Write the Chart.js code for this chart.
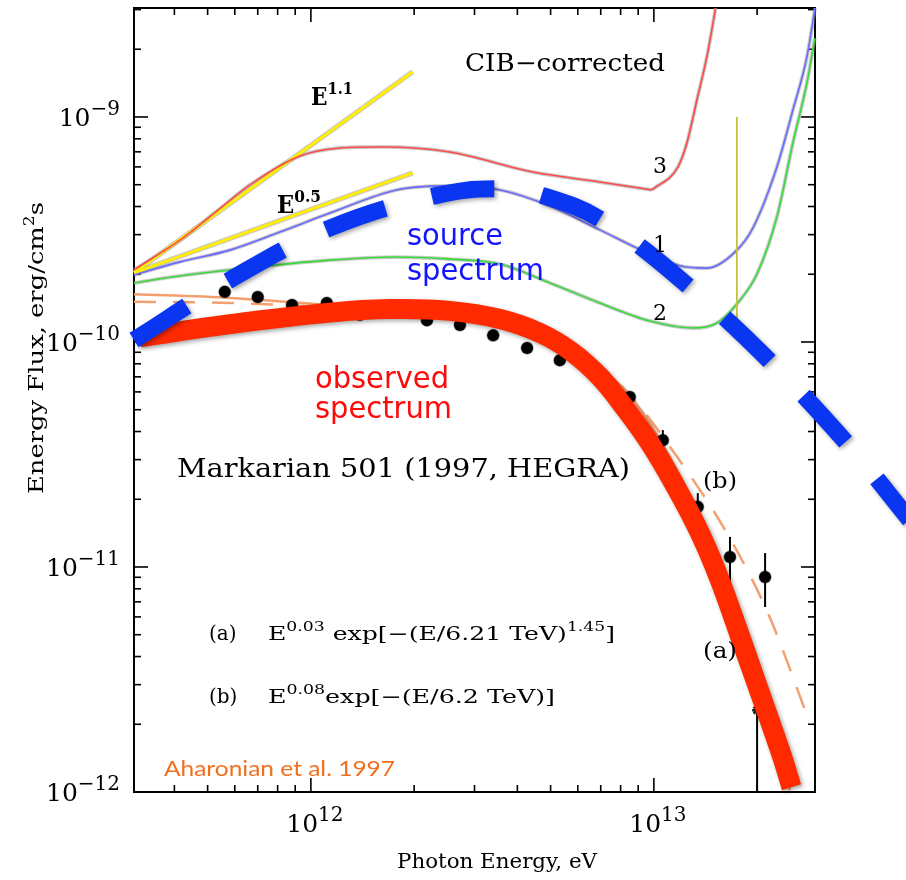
<!DOCTYPE html>
<html>
<head>
<meta charset="utf-8">
<script src="https://cdn.jsdelivr.net/npm/chart.js@4.4.1/dist/chart.umd.min.js"></script>
<style>
  html, body { margin: 0; padding: 0; background: #fff; }
  canvas { display: block; }
</style>
</head>
<body>
<canvas id="grafico" width="906" height="880"></canvas>
<script>
// Mkn 501 (HEGRA 1997): energia em eV, fluxo de energia em erg/cm^2/s

const SERIF = '"DejaVu Serif", "Liberation Serif", serif';
const SANS = '"DejaVu Sans", "Noto Sans", sans-serif';
const CALIB = 'Lato, "Open Sans", sans-serif';

// limites dos eixos
const xMin = 3.05e11, xMax = 2.95e13;
const yMin = 1e-12, yMax = 3.05e-9;

// rótulos dos ticks
const xMajor = [1e12, 1e13];
const xMajorExp = ['12', '13'];
const yMajor = [1e-9, 1e-10, 1e-11, 1e-12];
const yMajorExp = ['−9', '−10', '−11', '−12'];
const minorMult = [2, 3, 4, 5, 6, 7, 8, 9];

// pontos HEGRA
const obsE  = [5.61e11, 7.0e11, 8.81e11, 1.113e12, 1.39e12, 2.18e12, 2.72e12, 3.40e12, 4.27e12, 5.32e12, 6.73e12, 8.51e12, 1.062e13, 1.343e13, 1.667e13, 2.11e13];
const obsF  = [1.67e-10, 1.585e-10, 1.46e-10, 1.49e-10, 1.32e-10, 1.25e-10, 1.19e-10, 1.07e-10, 9.4e-11, 8.3e-11, 7.36e-11, 5.70e-11, 3.66e-11, 1.85e-11, 1.107e-11, 9.03e-12];
const obsLo = [null, null, null, null, null, null, null, null, null, null, null, null, 3.31e-11, 1.6e-11, 8.5e-12, 6.64e-12];
const obsHi = [null, null, null, null, null, null, null, null, null, null, null, null, 4.06e-11, 2.13e-11, 1.36e-11, 1.153e-11];

// ponto do último bin (limite)
const limE  = [2.0e13];
const limF  = [2.31e-12];
const limLo = [1e-13];
const limHi = [3.74e-12];

// ajustes (a) e (b)
const fitAE = [3.05e11, 5.81e11, 1.136e12, 2.22e12, 3.56e12, 5.69e12, 7.96e12, 9.73e12, 1.36e13, 1.78e13, 2.18e13, 2.49e13];
const fitAF = [1.63e-10, 1.57e-10, 1.46e-10, 1.36e-10, 1.23e-10, 9.7e-11, 6.44e-11, 4.36e-11, 1.70e-11, 6.44e-12, 2.56e-12, 1.02e-12];
const fitBE = [3.05e11, 5.81e11, 1.136e12, 2.22e12, 3.56e12, 5.69e12, 8.51e12, 1.175e13, 1.644e13, 2.15e13, 2.85e13];
const fitBF = [1.51e-10, 1.49e-10, 1.43e-10, 1.35e-10, 1.21e-10, 9.9e-11, 5.81e-11, 3.05e-11, 1.39e-11, 6.25e-12, 2.03e-12];

// espectros corrigidos pelo CIB (modelos 1, 2, 3); o 3 tem um bico em ~1e13 eV
const cib3E = [3.05e11, 4.24e11, 5.28e11, 6.64e11, 9.29e11, 1.215e12, 1.62e12, 2.54e12, 4.44e12, 6.96e12, 9.87e12, 1.175e13, 1.248e13, 1.335e13, 1.427e13, 1.537e13];
const cib3F = [2.09e-10, 2.90e-10, 3.78e-10, 4.99e-10, 6.71e-10, 7.28e-10, 7.36e-10, 6.99e-10, 5.69e-10, 5.14e-10, 4.74e-10, 5.99e-10, 7.66e-10, 1.19e-9, 1.848e-9, 3.49e-9];
const cib3Bico = 10;
const cib1E = [3.05e11, 4.15e11, 5.80e11, 8.12e11, 1.136e12, 1.78e12, 2.54e12, 3.56e12, 4.98e12, 6.96e12, 9.29e12, 1.19e13, 1.427e13, 1.723e13, 1.944e13, 2.284e13, 2.543e13, 2.794e13, 3.007e13];
const cib1F = [1.985e-10, 2.27e-10, 2.56e-10, 3.08e-10, 3.74e-10, 4.74e-10, 4.94e-10, 4.74e-10, 4.02e-10, 3.15e-10, 2.54e-10, 2.18e-10, 2.13e-10, 2.51e-10, 3.21e-10, 5.99e-10, 1.074e-9, 1.848e-9, 3.67e-9];
const cib2E = [3.05e11, 4.15e11, 5.80e11, 1.136e12, 1.78e12, 2.49e12, 3.56e12, 4.98e12, 6.96e12, 9.73e12, 1.299e13, 1.527e13, 1.746e13, 1.997e13, 2.284e13, 2.543e13, 2.794e13, 2.947e13];
const cib2F = [1.83e-10, 1.965e-10, 2.09e-10, 2.31e-10, 2.385e-10, 2.34e-10, 2.22e-10, 1.83e-10, 1.49e-10, 1.24e-10, 1.154e-10, 1.214e-10, 1.476e-10, 2.0e-10, 3.59e-10, 7.66e-10, 1.416e-9, 2.24e-9];

// leis de potência de referência
const pow11E = [3.05e11, 1.98e12];
const pow11F = [2.03e-10, 1.585e-9];
const pow05E = [3.05e11, 1.98e12];
const pow05F = [2.03e-10, 5.64e-10];

// marca vertical
const marcaE = [1.746e13, 1.746e13];
const marcaF = [1e-9, 1.25e-10];

// curvas desenhadas à mão: observado e fonte
const obsCurvaE = [3.17e11, 5.81e11, 1.136e12, 1.70e12, 2.54e12, 3.56e12, 4.66e12, 5.77e12, 6.96e12, 8.23e12, 9.73e12, 1.151e13, 1.362e13, 1.557e13, 1.84e13, 2.33e13, 2.52e13];
const obsCurvaF = [1.05e-10, 1.20e-10, 1.35e-10, 1.40e-10, 1.375e-10, 1.265e-10, 1.096e-10, 9.03e-11, 6.99e-11, 5.09e-11, 3.56e-11, 2.31e-11, 1.416e-11, 8.75e-12, 4.28e-12, 1.54e-12, 1.05e-12];
const fonteE = [3.05e11, 5.81e11, 1.136e12, 2.30e12, 3.56e12, 4.88e12, 7.2e12, 1.318e13, 2.28e13, 3.80e13, 5.57e13];
const fonteF = [1.02e-10, 1.89e-10, 3.21e-10, 4.46e-10, 4.79e-10, 4.41e-10, 3.41e-10, 1.67e-10, 7.66e-11, 3.31e-11, 1.62e-11];

const pts = (xs, ys) => xs.map((x, i) => ({ x, y: ys[i] }));

// linha fina com contorno cinza, como no gráfico original
function linhaFina(xs, ys, cor, opts = {}) {
  const w = opts.w || 1.6;
  const base = { data: pts(xs, ys), pointRadius: 0, fill: false,
    tension: opts.suave ? 0.4 : 0, cubicInterpolationMode: opts.suave ? 'monotone' : 'default' };
  return [
    Object.assign({}, base, { borderColor: cor, borderWidth: w, order: 6 }),
    Object.assign({}, base, { borderColor: 'rgba(150,150,150,0.5)', borderWidth: w + 2.2, order: 8 })
  ];
}

const datasets = [
  { id: 'fonte', data: pts(fonteE, fonteF), borderColor: '#0a36f2', borderWidth: 17,
    borderDash: [63, 48], borderCapStyle: 'butt', tension: 0.4,
    pointRadius: 0, clip: false, order: 0, sombra: true },
  { id: 'observado', data: pts(obsCurvaE, obsCurvaF), borderColor: '#ff2a00', borderWidth: 20,
    borderCapStyle: 'butt', tension: 0.4,
    pointRadius: 0, clip: false, order: 1, sombra: true },
  { id: 'hegra', data: pts(obsE, obsF), showLine: false, pointRadius: 6,
    pointBackgroundColor: '#000', pointBorderColor: 'rgba(0,0,0,0.3)', pointBorderWidth: 1.5, order: 2 },
  { id: 'limite', data: pts(limE, limF), showLine: false, pointStyle: 'star', pointRadius: 5,
    pointBorderColor: '#222', pointBorderWidth: 2.5, order: 2 },
  { id: 'fitA', data: pts(fitAE, fitAF), borderColor: '#f2a070', borderWidth: 2.5,
    tension: 0.4, cubicInterpolationMode: 'monotone', pointRadius: 0, order: 3 },
  { id: 'fitB', data: pts(fitBE, fitBF), borderColor: '#f2a070', borderWidth: 2.5, borderDash: [22, 17],
    tension: 0.4, cubicInterpolationMode: 'monotone', pointRadius: 0, order: 4 },
  { id: 'marca', data: pts(marcaE, marcaF), borderColor: '#c8c040', borderWidth: 1.8, pointRadius: 0, order: 5 },
  ...linhaFina(cib3E.slice(0, cib3Bico + 1), cib3F.slice(0, cib3Bico + 1), '#ff4a4a', { suave: true }),
  ...linhaFina(cib3E.slice(cib3Bico), cib3F.slice(cib3Bico), '#ff4a4a', { suave: true }),
  ...linhaFina(cib1E, cib1F, '#6a6aff', { suave: true }),
  ...linhaFina(cib2E, cib2F, '#3ada3a', { suave: true }),
  ...linhaFina(pow11E, pow11F, '#ffee00', { w: 3 }),
  ...linhaFina(pow05E, pow05F, '#ffee00', { w: 3 })
];

// texto com expoentes: partes = [[texto, sobrescrito?], ...]
function escreve(ctx, partes, x, y, o) {
  const size = o.size, supSize = Math.round(size * (o.sup || 0.68));
  const fam = o.font || SERIF, peso = o.peso || '';
  const fontN = `${peso} ${size}px ${fam}`, fontS = `${peso} ${supSize}px ${fam}`;
  let nat = 0;
  const larg = partes.map(([t, s]) => { ctx.font = s ? fontS : fontN; const w = ctx.measureText(t).width; nat += w; return w; });
  const sx = o.largura ? o.largura / nat : 1;
  let x0 = x;
  if (o.align === 'right') x0 = x - nat * sx;
  if (o.align === 'center') x0 = x - nat * sx / 2;
  ctx.save();
  ctx.fillStyle = o.cor || '#000';
  ctx.textBaseline = 'alphabetic';
  ctx.textAlign = 'left';
  ctx.translate(x0, y);
  if (o.rot) ctx.rotate(o.rot);
  ctx.scale(sx, 1);
  let cx = 0;
  partes.forEach(([t, s], i) => {
    ctx.font = s ? fontS : fontN;
    ctx.fillText(t, cx, s ? -size * 0.45 : 0);
    cx += larg[i];
  });
  ctx.restore();
}

const eixos = {
  id: 'eixos',
  beforeDatasetsDraw(chart) {
    const { ctx, chartArea: a, scales: { x, y } } = chart;
    ctx.save();
    ctx.strokeStyle = '#000';
    ctx.lineWidth = 2;
    ctx.strokeRect(a.left, a.top, a.right - a.left, a.bottom - a.top);
    ctx.lineWidth = 1.6;
    const tick = (x1, y1, x2, y2) => { ctx.beginPath(); ctx.moveTo(x1, y1); ctx.lineTo(x2, y2); ctx.stroke(); };
    for (let k = 11; k <= 13; k++) {
      [1, ...minorMult].forEach(m => {
        const v = m * Math.pow(10, k);
        if (v <= xMin || v >= xMax) return;
        const px = x.getPixelForValue(v), len = m === 1 ? 14 : 7;
        tick(px, a.bottom, px, a.bottom - len);
        tick(px, a.top, px, a.top + len);
      });
    }
    for (let k = -12; k <= -9; k++) {
      [1, ...minorMult].forEach(m => {
        const v = m * Math.pow(10, k);
        if (v < yMin || v >= yMax) return;
        const py = y.getPixelForValue(v), len = m === 1 ? 14 : 7;
        tick(a.left, py, a.left + len, py);
        tick(a.right, py, a.right - len, py);
      });
    }
    ctx.restore();
  },
  beforeDatasetDraw(chart, args) {
    const ds = chart.data.datasets[args.index];
    const { ctx, chartArea: a, scales: { x, y } } = chart;
    if (ds.sombra) {
      ctx.save();
      ctx.shadowColor = 'rgba(0,0,0,0.35)';
      ctx.shadowBlur = 4;
      ctx.shadowOffsetX = 2;
      ctx.shadowOffsetY = 2;
    }
    // barras de erro por baixo dos pontos
    const barras = ds.id === 'hegra' ? [obsE, obsLo, obsHi] : ds.id === 'limite' ? [limE, limLo, limHi] : null;
    if (barras) {
      const [es, los, his] = barras;
      ctx.save();
      ctx.beginPath();
      ctx.rect(a.left, a.top, a.width, a.height);
      ctx.clip();
      ctx.strokeStyle = '#000';
      ctx.lineWidth = 2;
      es.forEach((e, i) => {
        if (los[i] == null) return;
        const px = x.getPixelForValue(e);
        ctx.beginPath();
        ctx.moveTo(px, y.getPixelForValue(los[i]));
        ctx.lineTo(px, y.getPixelForValue(his[i]));
        ctx.stroke();
      });
      ctx.restore();
    }
  },
  afterDatasetDraw(chart, args) {
    if (chart.data.datasets[args.index].sombra) chart.ctx.restore();
  },
  afterDatasetsDraw(chart) {
    const { ctx, scales: { x, y } } = chart;
    // rótulos dos eixos
    yMajor.forEach((v, i) => {
      const py = y.getPixelForValue(v);
      escreve(ctx, [['10', false], [yMajorExp[i], true]], 120, py + 9, { size: 25, sup: 0.78, align: 'right' });
    });
    xMajor.forEach((v, i) => {
      const px = x.getPixelForValue(v);
      escreve(ctx, [['10', false], [xMajorExp[i], true]], px + 4, 832, { size: 25, sup: 0.78, align: 'center' });
    });
    escreve(ctx, [['Photon Energy, eV', false]], 497, 868, { size: 21, align: 'center', largura: 200 });
    escreve(ctx, [['Energy Flux, erg/cm', false], ['2', true], ['s', false]], 43, 494,
      { size: 21, largura: 292, rot: -Math.PI / 2 });

    // anotações
    escreve(ctx, [['CIB−corrected', false]], 465, 71, { size: 24, largura: 200 });
    escreve(ctx, [['E', false], ['1.1', true]], 311, 105, { size: 25, peso: 'bold', largura: 42 });
    escreve(ctx, [['E', false], ['0.5', true]], 277, 213, { size: 25, peso: 'bold', largura: 44 });
    escreve(ctx, [['3', false]], 660, 173, { size: 22, align: 'center' });
    escreve(ctx, [['1', false]], 660, 252, { size: 22, align: 'center' });
    escreve(ctx, [['2', false]], 660, 320, { size: 22, align: 'center' });
    escreve(ctx, [['Markarian 501 (1997, HEGRA)', false]], 177, 477, { size: 26, largura: 453 });
    escreve(ctx, [['(b)', false]], 703, 488, { size: 22, largura: 34 });
    escreve(ctx, [['(a)', false]], 703, 658, { size: 22, largura: 34 });
    escreve(ctx, [['(a)', false]], 209, 640, { size: 20 });
    escreve(ctx, [['E', false], ['0.03', true], [' exp[−(E/6.21 TeV)', false], ['1.45', true], [']', false]],
      268, 640, { size: 19, largura: 347 });
    escreve(ctx, [['(b)', false]], 209, 703, { size: 20 });
    escreve(ctx, [['E', false], ['0.08', true], ['exp[−(E/6.2 TeV)]', false]],
      268, 703, { size: 19, largura: 287 });

    escreve(ctx, [['source', false]], 407, 245, { size: 30, font: SANS, cor: '#1414ff', largura: 96 });
    escreve(ctx, [['spectrum', false]], 407, 280, { size: 30, font: SANS, cor: '#1414ff', largura: 137 });
    escreve(ctx, [['observed', false]], 315, 388, { size: 30, font: SANS, cor: '#ff0a0a', largura: 134 });
    escreve(ctx, [['spectrum', false]], 315, 418, { size: 30, font: SANS, cor: '#ff0a0a', largura: 137 });
    escreve(ctx, [['Aharonian et al. 1997', false]], 164, 776, { size: 22, font: CALIB, cor: '#f26f1e', largura: 231 });
  }
};

new Chart(document.getElementById('grafico'), {
  type: 'line',
  data: { datasets },
  options: {
    responsive: false,
    animation: false,
    events: [],
    layout: { padding: { left: 134, right: 91, top: 8, bottom: 88 } },
    plugins: { legend: { display: false }, tooltip: { enabled: false } },
    scales: {
      x: { type: 'logarithmic', display: false, bounds: 'data',
           afterDataLimits: s => { s.min = xMin; s.max = xMax; } },
      y: { type: 'logarithmic', display: false, min: yMin, max: yMax }
    }
  },
  plugins: [eixos]
});
</script>
</body>
</html>
